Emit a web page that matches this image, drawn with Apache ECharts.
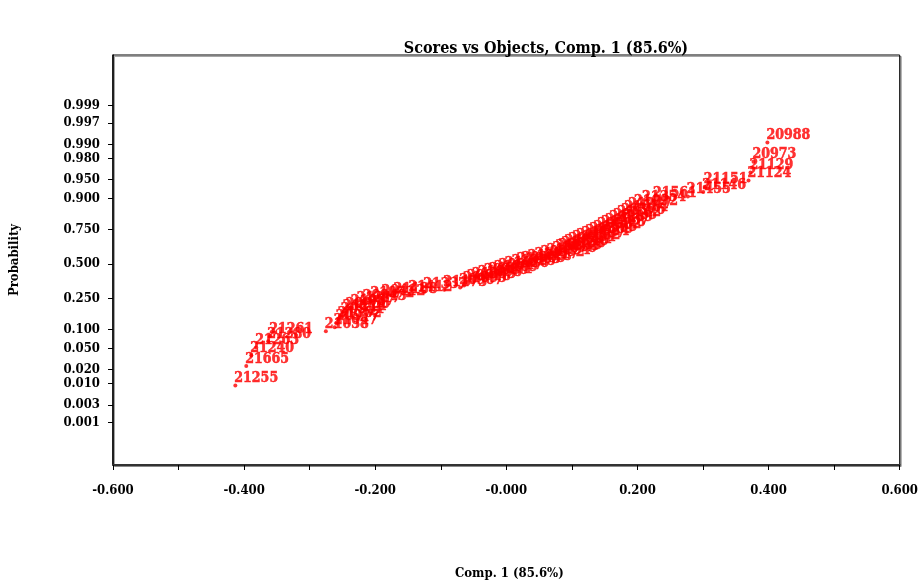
<!DOCTYPE html>
<html>
<head>
<meta charset="utf-8">
<script src="https://cdn.jsdelivr.net/npm/echarts@6/dist/echarts.min.js"></script>
<style>
html,body{margin:0;padding:0;background:#fff;}
#chart{width:921px;height:585px;}
</style>
</head>
<body>
<div id="chart"></div>
<script>
// Sample IDs in rank order (sorted by score)
var sampleIds = [
  '21255','21665','21240','21263','21280','21261','21038','21047','20977','21302',
  '20931','21214','20956','21087','21317','20943','21072','20412','21188','21412',
  '21337','21173','20967','21095','20918','21233','21058','20986','21271','21109',
  '20947','21186','21325','21063','20995','21228','21117','20952','21294','21076',
  '21203','20939','21138','21346','20961','21251','21082','21197','20924','21309',
  '21155','20982','21218','21067','21289','20935','21142','21376','21014','21247',
  '21092','21354','21561','21455','21146','21151','21124','21129','20973','20988'
];
// Comp. 1 scores, sorted ascending
var scores = [
  -0.4134,-0.3967,-0.3891,-0.3815,-0.3633,-0.3603,-0.2753,-0.2617,-0.2586,-0.2556,
  -0.2511,-0.2480,-0.2435,-0.2359,-0.2268,-0.2177,-0.2056,-0.1889,-0.1707,-0.1479,
  -0.1252,-0.0948,-0.0705,-0.0645,-0.0584,-0.0508,-0.0417,-0.0326,-0.0250,-0.0174,
  -0.0099,-0.0008,0.0099,0.0174,0.0250,0.0341,0.0448,0.0539,0.0630,0.0721,
  0.0766,0.0812,0.0857,0.0903,0.0963,0.1024,0.1085,0.1160,0.1221,0.1282,
  0.1343,0.1403,0.1464,0.1525,0.1585,0.1646,0.1707,0.1767,0.1813,0.1873,
  0.1964,0.2086,0.2253,0.2769,0.3004,0.3026,0.3694,0.3724,0.3770,0.3982
];
var probTicks = ['0.001','0.003','0.010','0.020','0.050','0.100','0.250','0.500','0.750','0.900','0.950','0.980','0.990','0.997','0.999'];
var xTickLabels = ['-0.600','-0.400','-0.200','-0.000','0.200','0.400','0.600'];
var xTickValues = [-0.6,-0.4,-0.2,0,0.2,0.4,0.6];
var xMinorTicks = [-0.6,-0.5,-0.4,-0.3,-0.2,-0.1,0,0.1,0.2,0.3,0.4,0.5,0.6];

// inverse standard normal CDF (Acklam) — probability scale transform
function invNorm(p){
  var a=[-3.969683028665376e+01,2.209460984245205e+02,-2.759285104469687e+02,1.383577518672690e+02,-3.066479806614716e+01,2.506628277459239e+00];
  var b=[-5.447609879822406e+01,1.615858368580409e+02,-1.556989798598866e+02,6.680131188771972e+01,-1.328068155288572e+01];
  var c=[-7.784894002430293e-03,-3.223964580411365e-01,-2.400758277161838e+00,-2.549732539343734e+00,4.374664141464968e+00,2.938163982698783e+00];
  var d=[7.784695709041462e-03,3.224671290700398e-01,2.445134137142996e+00,3.754408661907416e+00];
  var pl=0.02425,q,r;
  if(p<pl){q=Math.sqrt(-2*Math.log(p));return (((((c[0]*q+c[1])*q+c[2])*q+c[3])*q+c[4])*q+c[5])/((((d[0]*q+d[1])*q+d[2])*q+d[3])*q+1);}
  if(p>1-pl){q=Math.sqrt(-2*Math.log(1-p));return -(((((c[0]*q+c[1])*q+c[2])*q+c[3])*q+c[4])*q+c[5])/((((d[0]*q+d[1])*q+d[2])*q+d[3])*q+1);}
  q=p-0.5;r=q*q;
  return (((((a[0]*r+a[1])*r+a[2])*r+a[3])*r+a[4])*r+a[5])*q/(((((b[0]*r+b[1])*r+b[2])*r+b[3])*r+b[4])*r+1);
}

var n = scores.length;
var data = scores.map(function(s,i){
  return [s, invNorm((i+1-0.375)/(n+0.25)), sampleIds[i]];
});
var yTickVals = probTicks.map(function(t){return invNorm(parseFloat(t));});

var FONT = '"DejaVu Serif Condensed","DejaVu Serif","Liberation Serif",serif';
var chart = echarts.init(document.getElementById('chart'), null, {renderer:'canvas'});
chart.setOption({
  animation:false,
  backgroundColor:'#fff',
  title:{
    text:'Scores vs Objects, Comp. 1 (85.6%)',
    left:541, top:36, textAlign:'center',
    textStyle:{fontFamily:FONT,fontWeight:'bold',fontSize:16,color:'#000'}
  },
  grid:{left:112,right:18,top:55,bottom:115,show:true,borderColor:'#000',borderWidth:1,backgroundColor:'#fff',
    shadowColor:'rgba(0,0,0,0.35)',shadowOffsetX:1.5,shadowOffsetY:1.5,shadowBlur:0},
  xAxis:{
    type:'value',min:-0.6,max:0.6,
    name:'Comp. 1 (85.6%)',nameLocation:'middle',nameGap:102,
    nameTextStyle:{fontFamily:FONT,fontWeight:'bold',fontSize:13,color:'#000',padding:[0,0,0,6]},
    axisLine:{show:true,onZero:false,lineStyle:{color:'#333',width:2}},
    axisTick:{show:true,length:5,customValues:xMinorTicks,lineStyle:{color:'#000'}},
    axisLabel:{customValues:xTickValues,margin:19,fontFamily:FONT,fontWeight:'bold',fontSize:13,color:'#000',
      formatter:function(v){var i=xTickValues.findIndex(function(t){return Math.abs(t-v)<1e-9;});return i>=0?xTickLabels[i]:'';}},
    splitLine:{show:false}
  },
  yAxis:{
    type:'value',min:-3.923,max:4.077,
    name:'Probability',nameLocation:'middle',nameGap:92,nameRotate:90,
    nameTextStyle:{fontFamily:FONT,fontWeight:'bold',fontSize:13,color:'#000'},
    axisLine:{show:true,onZero:false,lineStyle:{color:'#000',width:1.5}},
    axisTick:{show:true,length:5,customValues:yTickVals,lineStyle:{color:'#000'}},
    axisLabel:{customValues:yTickVals,margin:13,fontFamily:FONT,fontWeight:'bold',fontSize:13,color:'#000',
      formatter:function(v){var i=yTickVals.findIndex(function(t){return Math.abs(t-v)<1e-9;});return i>=0?probTicks[i]:'';}},
    splitLine:{show:false}
  },
  series:[{
    type:'scatter',
    data:data,
    symbol:'circle',symbolSize:4,
    itemStyle:{color:'#ff0000'},
    label:{show:true,formatter:function(p){return p.data[2];},position:[1,2],align:'left',verticalAlign:'bottom',
      color:'#ff0000',fontFamily:FONT,fontWeight:'bold',fontSize:14,textBorderColor:'#ff0000',textBorderWidth:0.5},
    emphasis:{disabled:true}
  }]
});
</script>
</body>
</html>
